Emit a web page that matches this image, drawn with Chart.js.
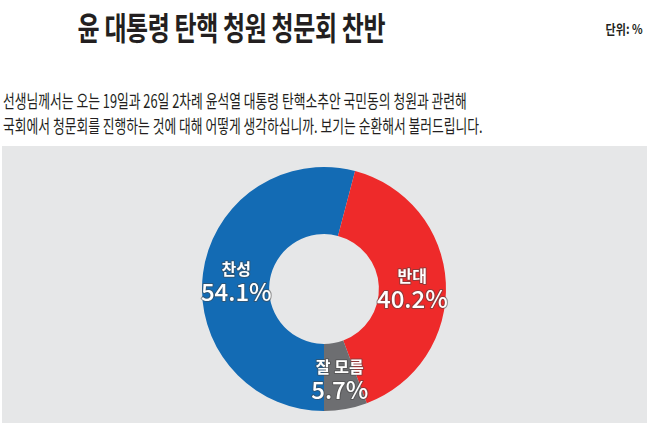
<!DOCTYPE html>
<html>
<head>
<meta charset="utf-8">
<script src="https://cdn.jsdelivr.net/npm/chart.js@4"></script>
<style>
    body { margin: 0; background: #fff; font-family: "Noto Sans CJK KR", "Noto Sans", sans-serif; }
    #wrap { position: relative; width: 647px; height: 423px; overflow: hidden; }
    #title { position: absolute; left: 0; top: 6px; width: 463px; text-align: center; font-size: 32px; font-weight: 700; color: #231f20; line-height: 40px; transform: scaleX(0.75); transform-origin: 231px 0; white-space: nowrap; letter-spacing: -0.5px; }
    #unit { position: absolute; right: 4px; top: 19px; font-size: 13px; font-weight: 700; color: #231f20; transform: scaleX(0.85); transform-origin: right top; white-space: nowrap; }
    .q { position: absolute; left: 3px; font-size: 18px; color: #231f20; line-height: 24px; transform: scaleX(0.71); transform-origin: 0 0; white-space: nowrap; }
    #panel { position: absolute; left: 2px; top: 146px; width: 645px; height: 277px; background: #e6e7e8; }
    #box { position: absolute; left: 0; top: 146px; width: 647px; height: 277px; }
</style>
</head>
<body>
<div id="wrap">
    <div id="title">윤 대통령 탄핵 청원 청문회 찬반</div>
    <div id="unit">단위: %</div>
    <div class="q" style="top:88px">선생님께서는 오는 19일과 26일 2차례 윤석열 대통령 탄핵소추안 국민동의 청원과 관련해</div>
    <div class="q" style="top:113px">국회에서 청문회를 진행하는 것에 대해 어떻게 생각하십니까. 보기는 순환해서 불러드립니다.</div>
    <div id="panel"></div>
    <div id="box"><canvas id="pie"></canvas></div>
</div>
<script>
// --- DATOS ---
const labels = ['찬성', '반대', '잘 모름'];
const values = [54.1, 40.2, 5.7];
const colors = ['#136bb4', '#ee2a2a', '#6d6e71'];

// etiquetas dentro de cada sector
const sliceLabels = {
    id: 'sliceLabels',
    afterDatasetsDraw(chart) {
        const ctx = chart.ctx;
        const meta = chart.getDatasetMeta(0);
        meta.data.forEach((arc, i) => {
            const mid = (arc.startAngle + arc.endAngle) / 2;
            const r = (arc.innerRadius + arc.outerRadius) / 2;
            const x = arc.x + Math.cos(mid) * r;
            const y = arc.y + Math.sin(mid) * r;
            ctx.save();
            ctx.textAlign = 'center';
            ctx.textBaseline = 'middle';
            ctx.lineJoin = 'round';
            ctx.strokeStyle = 'rgba(70,70,70,0.55)';
            ctx.fillStyle = '#fff';
            ctx.lineWidth = 2;
            ctx.font = '700 16px "Noto Sans CJK KR"';
            ctx.strokeText(labels[i], x, y - 9);
            ctx.fillText(labels[i], x, y - 9);
            ctx.font = '500 24px "Noto Sans CJK KR"';
            const t = values[i].toFixed(1) + '%';
            ctx.strokeText(t, x, y + 14);
            ctx.fillText(t, x, y + 14);
            ctx.restore();
        });
    }
};

new Chart(document.getElementById('pie'), {
    type: 'doughnut',
    data: {
        labels: labels,
        datasets: [{ data: values, backgroundColor: colors, borderWidth: 0 }]
    },
    options: {
        responsive: true,
        maintainAspectRatio: false,
        animation: false,
        rotation: 180,
        cutout: '45%',
        layout: { padding: { left: 202, right: 201, top: 21, bottom: 12 } },
        plugins: { legend: { display: false }, tooltip: { enabled: false } }
    },
    plugins: [sliceLabels]
});
</script>
</body>
</html>
